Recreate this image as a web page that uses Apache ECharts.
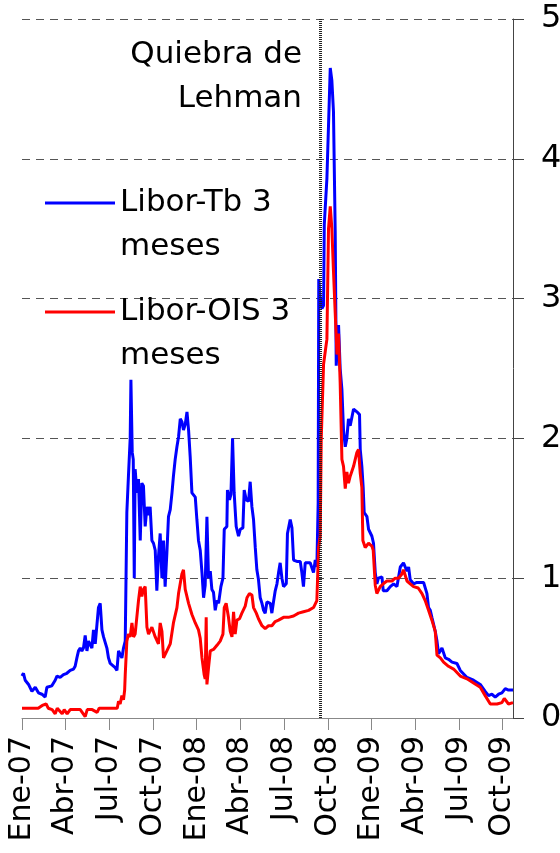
<!DOCTYPE html>
<html>
<head>
<meta charset="utf-8">
<script src="https://cdn.jsdelivr.net/npm/echarts@6/dist/echarts.min.js"></script>
<style>
  html, body { margin: 0; padding: 0; background: #fff; }
  #chart { width: 560px; height: 853px; }
</style>
</head>
<body>
<div id="chart"></div>
<script>
// meses contados desde Ene-07 (0 = 1 ene 2007)
var tickLabels = ['Ene-07', 'Abr-07', 'Jul-07', 'Oct-07', 'Ene-08', 'Abr-08',
                  'Jul-08', 'Oct-08', 'Ene-09', 'Abr-09', 'Jul-09', 'Oct-09'];
var lehman = 20.5;

var blueMes = [
  0, 0.10, 0.22, 0.45, 0.68, 0.91, 1.13, 1.37, 1.59, 1.71,
  1.82, 2.05, 2.28, 2.40, 2.62, 2.85, 3.08, 3.31, 3.54, 3.65,
  3.77, 3.88, 4.00, 4.11, 4.22, 4.34, 4.46, 4.57, 4.80, 4.91,
  5.03, 5.14, 5.25, 5.37, 5.49, 5.60, 5.71, 5.83, 5.94, 6.06,
  6.17, 6.40, 6.52, 6.63, 6.74, 6.86, 6.97, 7.09, 7.20, 7.31,
  7.43, 7.48, 7.57, 7.64, 7.71, 7.77, 7.89, 8.00, 8.12, 8.23,
  8.34, 8.46, 8.58, 8.69, 8.80, 8.92, 9.03, 9.15, 9.26, 9.37,
  9.49, 9.61, 9.72, 9.83, 9.95, 10.06, 10.18, 10.30, 10.40, 10.52,
  10.64, 10.75, 10.87, 10.98, 11.09, 11.21, 11.33, 11.44, 11.55, 11.67,
  11.90, 12.01, 12.12, 12.24, 12.36, 12.47, 12.58, 12.70, 12.81, 12.93,
  13.04, 13.15, 13.27, 13.39, 13.50, 13.66, 13.80, 13.89, 14.07, 14.11,
  14.25, 14.35, 14.46, 14.57, 14.71, 14.87, 14.99, 15.17, 15.26, 15.40,
  15.56, 15.67, 15.79, 15.90, 16.02, 16.13, 16.24, 16.36, 16.48, 16.59,
  16.70, 16.82, 17.05, 17.16, 17.27, 17.39, 17.51, 17.62, 17.73, 17.85,
  17.96, 18.15, 18.23, 18.42, 18.54, 18.65, 18.88, 19.11, 19.22, 19.33,
  19.45, 19.57, 19.79, 20.02, 20.14, 20.25, 20.34, 20.38, 20.48, 20.60,
  20.71, 20.76, 20.94, 21.05, 21.17, 21.28, 21.39, 21.51, 21.58, 21.74,
  21.85, 21.97, 22.08, 22.20, 22.31, 22.42, 22.54, 22.77, 23.00, 23.18,
  23.23, 23.34, 23.43, 23.50, 23.69, 23.80, 24.03, 24.14, 24.26, 24.37,
  24.48, 24.72, 24.81, 25.06, 25.29, 25.52, 25.75, 25.98, 26.20, 26.44,
  26.55, 26.66, 26.89, 27.12, 27.35, 27.58, 27.81, 27.92, 28.04, 28.15,
  28.38, 28.50, 28.61, 28.84, 29.07, 29.29, 29.53, 29.87, 30.10, 30.56,
  31.01, 31.47, 31.81, 32.04, 32.27, 32.50, 32.73, 32.96, 33.19, 33.41,
  33.72
];
var blueVal = [
  0.30, 0.32, 0.27, 0.24, 0.19, 0.22, 0.18, 0.17, 0.15, 0.22,
  0.21, 0.23, 0.27, 0.30, 0.29, 0.31, 0.32, 0.34, 0.35, 0.37,
  0.43, 0.48, 0.50, 0.48, 0.50, 0.59, 0.48, 0.55, 0.50, 0.63,
  0.53, 0.54, 0.79, 0.82, 0.63, 0.58, 0.57, 0.50, 0.43, 0.39,
  0.40, 0.36, 0.34, 0.48, 0.49, 0.43, 0.50, 0.55, 1.47, 1.73,
  2.00, 2.42, 1.90, 1.85, 1.00, 1.78, 1.61, 1.71, 1.27, 1.68,
  1.66, 1.37, 1.51, 1.45, 1.51, 1.27, 1.25, 1.20, 0.91, 1.15,
  1.32, 1.00, 1.27, 0.94, 1.18, 1.44, 1.49, 1.61, 1.73, 1.85,
  1.94, 2.01, 2.14, 2.12, 2.06, 2.10, 2.19, 2.06, 1.87, 1.61,
  1.58, 1.42, 1.27, 1.20, 1.04, 0.86, 0.95, 1.44, 1.00, 1.05,
  0.92, 0.90, 0.77, 0.84, 0.82, 0.94, 1.00, 1.35, 1.37, 1.63,
  1.56, 1.60, 2.00, 1.61, 1.37, 1.30, 1.35, 1.36, 1.63, 1.56,
  1.55, 1.69, 1.51, 1.42, 1.22, 1.06, 0.99, 0.86, 0.82, 0.77,
  0.75, 0.83, 0.82, 0.75, 0.83, 0.91, 0.96, 1.04, 1.11, 1.00,
  0.94, 0.96, 1.32, 1.42, 1.36, 1.13, 1.12, 1.12, 1.04, 0.94,
  1.11, 1.12, 1.11, 1.04, 1.13, 1.08, 1.54, 3.14, 3.00, 2.93,
  2.95, 3.53, 3.86, 3.86, 4.65, 4.56, 4.34, 3.48, 2.52, 2.81,
  2.50, 2.35, 2.06, 1.94, 2.00, 2.14, 2.09, 2.21, 2.19, 2.17,
  1.92, 1.80, 1.65, 1.47, 1.44, 1.35, 1.30, 1.25, 1.04, 0.96,
  1.00, 1.01, 0.91, 0.91, 0.94, 0.96, 0.94, 1.08, 1.11, 1.05,
  1.08, 0.99, 0.96, 0.97, 0.97, 0.97, 0.89, 0.79, 0.77, 0.72,
  0.62, 0.55, 0.46, 0.50, 0.43, 0.42, 0.40, 0.39, 0.34, 0.29,
  0.27, 0.24, 0.19, 0.16, 0.17, 0.15, 0.17, 0.18, 0.21, 0.20,
  0.20
];

var redMes = [
  0, 0.56, 1.11, 1.39, 1.52, 1.66, 1.80, 2.07, 2.28, 2.42,
  2.76, 2.90, 3.10, 3.31, 3.65, 4.00, 4.34, 4.48, 4.82, 5.16,
  5.30, 5.71, 6.19, 6.54, 6.63, 6.74, 6.86, 6.97, 7.05, 7.09,
  7.20, 7.31, 7.43, 7.55, 7.66, 7.77, 8.00, 8.12, 8.23, 8.34,
  8.46, 8.58, 8.69, 8.92, 9.15, 9.37, 9.49, 9.61, 9.72, 9.95,
  10.18, 10.40, 10.64, 10.75, 10.98, 11.09, 11.21, 11.44, 11.67, 11.90,
  12.12, 12.24, 12.36, 12.51, 12.58, 12.65, 12.70, 12.81, 12.93, 13.15,
  13.39, 13.61, 13.80, 13.89, 14.02, 14.18, 14.30, 14.42, 14.53, 14.64,
  14.76, 14.94, 15.10, 15.33, 15.45, 15.62, 15.79, 15.90, 16.09, 16.24,
  16.48, 16.70, 16.93, 17.16, 17.39, 17.62, 17.96, 18.30, 18.65, 18.99,
  19.33, 19.68, 20.02, 20.25, 20.37, 20.48, 20.55, 20.71, 20.94, 21.05,
  21.17, 21.28, 21.39, 21.51, 21.63, 21.74, 21.85, 21.97, 22.08, 22.20,
  22.31, 22.42, 22.54, 22.77, 23.00, 23.11, 23.23, 23.34, 23.41, 23.57,
  23.80, 24.03, 24.12, 24.26, 24.37, 24.60, 24.81, 25.06, 25.41, 25.63,
  25.86, 26.09, 26.20, 26.44, 26.66, 26.89, 27.21, 27.47, 27.69, 27.92,
  28.15, 28.38, 28.50, 28.73, 28.95, 29.29, 29.64, 30.10, 30.56, 31.01,
  31.47, 31.81, 32.16, 32.62, 32.96, 33.12, 33.41, 33.72
];
var redVal = [
  0.07, 0.07, 0.07, 0.09, 0.08, 0.10, 0.07, 0.06, 0.03, 0.07,
  0.03, 0.06, 0.03, 0.06, 0.06, 0.06, 0.01, 0.06, 0.06, 0.04,
  0.07, 0.07, 0.07, 0.07, 0.12, 0.10, 0.16, 0.13, 0.20, 0.31,
  0.55, 0.60, 0.58, 0.68, 0.58, 0.60, 0.84, 0.94, 0.87, 0.92,
  0.94, 0.65, 0.60, 0.65, 0.58, 0.53, 0.68, 0.62, 0.43, 0.48,
  0.53, 0.68, 0.79, 0.89, 1.03, 1.06, 0.92, 0.82, 0.74, 0.68,
  0.63, 0.57, 0.43, 0.31, 0.28, 0.72, 0.24, 0.36, 0.48, 0.49,
  0.52, 0.55, 0.60, 0.79, 0.82, 0.72, 0.62, 0.58, 0.76, 0.60,
  0.70, 0.71, 0.75, 0.80, 0.86, 0.89, 0.88, 0.79, 0.75, 0.71,
  0.66, 0.64, 0.66, 0.66, 0.69, 0.70, 0.72, 0.72, 0.73, 0.75,
  0.76, 0.77, 0.79, 0.84, 1.22, 1.30, 1.99, 2.53, 2.71, 3.50,
  3.66, 3.50, 3.20, 2.90, 2.60, 2.75, 2.40, 1.85, 1.80, 1.64,
  1.76, 1.68, 1.73, 1.80, 1.90, 1.92, 1.75, 1.65, 1.27, 1.22,
  1.25, 1.23, 1.20, 0.95, 0.89, 0.94, 0.96, 0.98, 0.98, 1.00,
  1.00, 1.03, 1.06, 0.98, 0.96, 0.94, 0.93, 0.89, 0.84, 0.77,
  0.70, 0.62, 0.45, 0.43, 0.40, 0.37, 0.35, 0.30, 0.28, 0.25,
  0.22, 0.16, 0.10, 0.10, 0.11, 0.14, 0.10, 0.11
];

function pairs(xs, ys) {
  var out = [];
  for (var i = 0; i < xs.length; i++) out.push([xs[i], ys[i]]);
  return out;
}

var font = 'DejaVu Sans';
// legend icon: 70 x 88 box, line drawn at the height of the first text line
var legendIcon = 'path://M0,20.5L70,20.5L70,23.5L0,23.5Z M0,0L0.01,0L0,0.01Z M70,88L69.99,88L70,87.99Z';

var chart = echarts.init(document.getElementById('chart'), null, { renderer: 'canvas' });
chart.setOption({
  animation: false,
  backgroundColor: '#fff',
  grid: { left: 22, right: 47, top: 19, bottom: 135, outerBoundsMode: 'none', containLabel: false },
  legend: {
    orient: 'vertical',
    left: 40,
    top: 176,
    itemWidth: 70,
    itemHeight: 88,
    itemGap: 21,
    icon: legendIcon,
    formatter: function(n) { return n.replace(' meses', '\nmeses'); },
    textStyle: { fontFamily: font, fontSize: 31, lineHeight: 44, color: '#000' },
    data: ['Libor-Tb 3 meses', 'Libor-OIS 3 meses']
  },
  graphic: [{
    type: 'text',
    x: 302,
    y: 33,
    style: {
      text: 'Quiebra de\nLehman',
      align: 'right',
      verticalAlign: 'top',
      font: '31px "DejaVu Sans"',
      lineHeight: 44,
      fill: '#000'
    }
  }],
  xAxis: {
    type: 'value',
    min: 0,
    max: 33.72,
    interval: 3,
    axisLine: { show: true, onZero: false, lineStyle: { color: '#888', width: 1 } },
    axisTick: { show: true, length: 12, lineStyle: { color: '#888' } },
    splitLine: { show: false },
    axisLabel: {
      rotate: 90,
      margin: 18,
      showMaxLabel: false,
      fontFamily: font,
      fontSize: 30,
      color: '#000',
      formatter: function(v) {
        var i = Math.round(v / 3);
        return Math.abs(v - i * 3) < 0.01 ? (tickLabels[i] || '') : '';
      }
    }
  },
  yAxis: {
    type: 'value',
    position: 'right',
    min: 0,
    max: 5,
    interval: 1,
    axisLine: { show: true, onZero: false, lineStyle: { color: '#444', width: 1 } },
    axisTick: { show: true, length: 11, lineStyle: { color: '#444' } },
    splitLine: { show: true, lineStyle: { color: '#555', width: 1, type: [8, 6] } },
    axisLabel: { margin: 28, fontFamily: font, fontSize: 32, color: '#000' }
  },
  series: [{
    name: 'Libor-Tb 3 meses',
    type: 'line',
    data: pairs(blueMes, blueVal),
    showSymbol: false,
    color: '#0000ff',
    lineStyle: { color: '#0000ff', width: 3 },
    markLine: {
      silent: true,
      symbol: ['none', 'none'],
      label: { show: false },
      lineStyle: { color: '#222', width: 3, type: [1, 1] },
      data: [{ xAxis: lehman }]
    }
  }, {
    name: 'Libor-OIS 3 meses',
    type: 'line',
    data: pairs(redMes, redVal),
    showSymbol: false,
    color: '#ff0000',
    lineStyle: { color: '#ff0000', width: 3 }
  }]
});
</script>
</body>
</html>
